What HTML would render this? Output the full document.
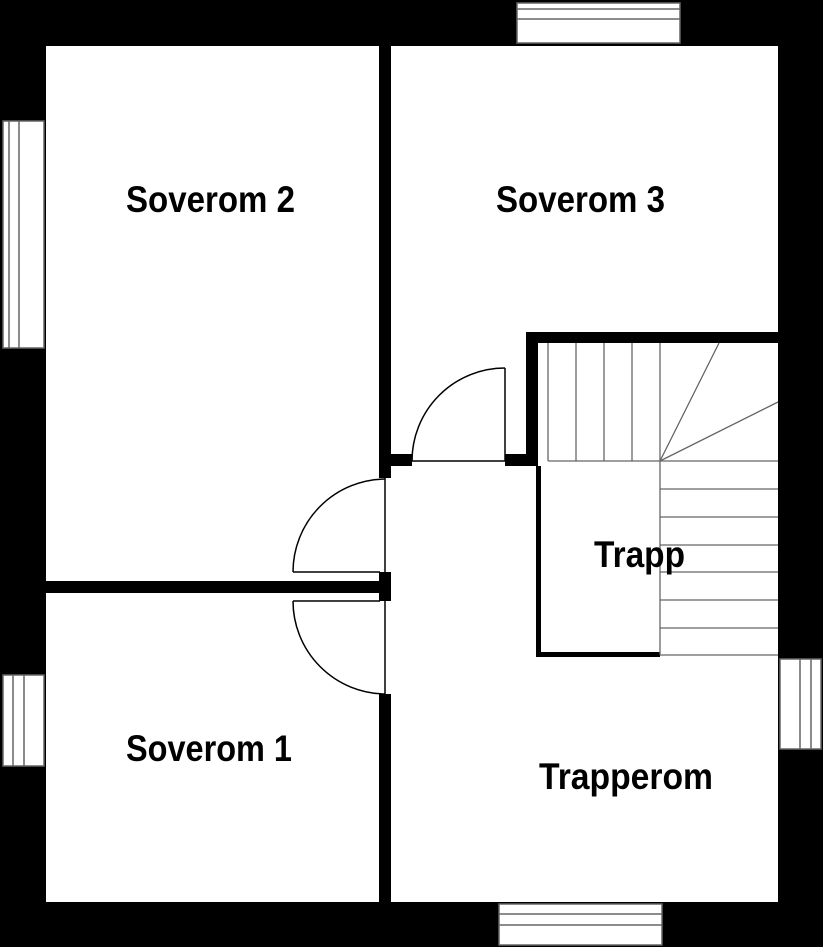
<!DOCTYPE html>
<html><head><meta charset="utf-8"><style>html,body{margin:0;padding:0;background:#fff}svg{display:block}</style></head>
<body>
<svg width="823" height="947" viewBox="0 0 823 947" xmlns="http://www.w3.org/2000/svg">
<rect x="0" y="0" width="823" height="947" fill="#000"/>
<rect x="46" y="46" width="333" height="535" fill="#fff"/>
<rect x="46" y="593" width="333" height="309" fill="#fff"/>
<rect x="391" y="46" width="387" height="856" fill="#fff"/>
<rect x="379" y="478" width="12" height="94" fill="#fff"/>
<rect x="379" y="601" width="12" height="93" fill="#fff"/>
<rect x="379" y="46" width="12" height="420" fill="#000"/>
<rect x="379" y="572" width="12" height="29" fill="#000"/>
<rect x="46" y="581" width="333" height="11" fill="#000"/>
<rect x="391" y="454" width="21" height="12" fill="#000"/>
<rect x="505" y="454" width="33" height="12" fill="#000"/>
<rect x="526" y="332" width="12" height="134" fill="#000"/>
<rect x="526" y="332" width="252" height="11" fill="#000"/>
<rect x="536" y="466" width="5" height="191" fill="#000"/>
<rect x="536" y="652" width="124" height="5" fill="#000"/>
<g fill="none" stroke="#000" stroke-width="1.5">
<line x1="505" y1="368" x2="505" y2="461"/>
<line x1="412" y1="461" x2="505" y2="461"/>
<path d="M412 461 A93 93 0 0 1 505 368"/>
<line x1="385" y1="478" x2="385" y2="572"/>
<line x1="293" y1="572" x2="380" y2="572"/>
<path d="M385 479 A93 93 0 0 0 293 572"/>
<line x1="385" y1="601" x2="385" y2="694"/>
<line x1="293" y1="601" x2="380" y2="601"/>
<path d="M293 601 A93 93 0 0 0 385 694"/>
</g>
<g stroke="#666" stroke-width="1.3" fill="none">
<line x1="548" y1="343" x2="548" y2="461"/>
<line x1="576" y1="343" x2="576" y2="461"/>
<line x1="604" y1="343" x2="604" y2="461"/>
<line x1="632" y1="343" x2="632" y2="461"/>
<line x1="660" y1="343" x2="660" y2="655"/>
<line x1="548" y1="461" x2="778" y2="461"/>
<line x1="660" y1="461" x2="719" y2="343"/>
<line x1="660" y1="461" x2="778" y2="402"/>
<line x1="660" y1="489" x2="778" y2="489"/>
<line x1="660" y1="517" x2="778" y2="517"/>
<line x1="660" y1="545" x2="778" y2="545"/>
<line x1="660" y1="572" x2="778" y2="572"/>
<line x1="660" y1="600" x2="778" y2="600"/>
<line x1="660" y1="628" x2="778" y2="628"/>
<line x1="660" y1="655" x2="778" y2="655"/>
</g>
<g fill="#fff" stroke="#666" stroke-width="1.5">
<rect x="517" y="3" width="163" height="40"/>
<line x1="517" y1="9" x2="680" y2="9"/>
<line x1="517" y1="19" x2="680" y2="19"/>
<rect x="499" y="904" width="163" height="41"/>
<line x1="499" y1="914" x2="662" y2="914"/>
<line x1="499" y1="925" x2="662" y2="925"/>
<rect x="3" y="121" width="41" height="227"/>
<line x1="9" y1="121" x2="9" y2="348"/>
<line x1="19" y1="121" x2="19" y2="348"/>
<rect x="3" y="675" width="41" height="91"/>
<line x1="13" y1="675" x2="13" y2="766"/>
<line x1="24" y1="675" x2="24" y2="766"/>
<rect x="780" y="659" width="41" height="90"/>
<line x1="800" y1="659" x2="800" y2="749"/>
<line x1="811" y1="659" x2="811" y2="749"/>
</g>
<g font-family="'Liberation Sans', sans-serif" font-weight="bold" font-size="37" fill="#000">
<text x="126" y="212" textLength="169" lengthAdjust="spacingAndGlyphs">Soverom 2</text>
<text x="496" y="212" textLength="169" lengthAdjust="spacingAndGlyphs">Soverom 3</text>
<text x="594" y="567" textLength="91" lengthAdjust="spacingAndGlyphs">Trapp</text>
<text x="126" y="761" textLength="166" lengthAdjust="spacingAndGlyphs">Soverom 1</text>
<text x="539" y="789" textLength="174" lengthAdjust="spacingAndGlyphs">Trapperom</text>
</g>
</svg>
</body></html>
